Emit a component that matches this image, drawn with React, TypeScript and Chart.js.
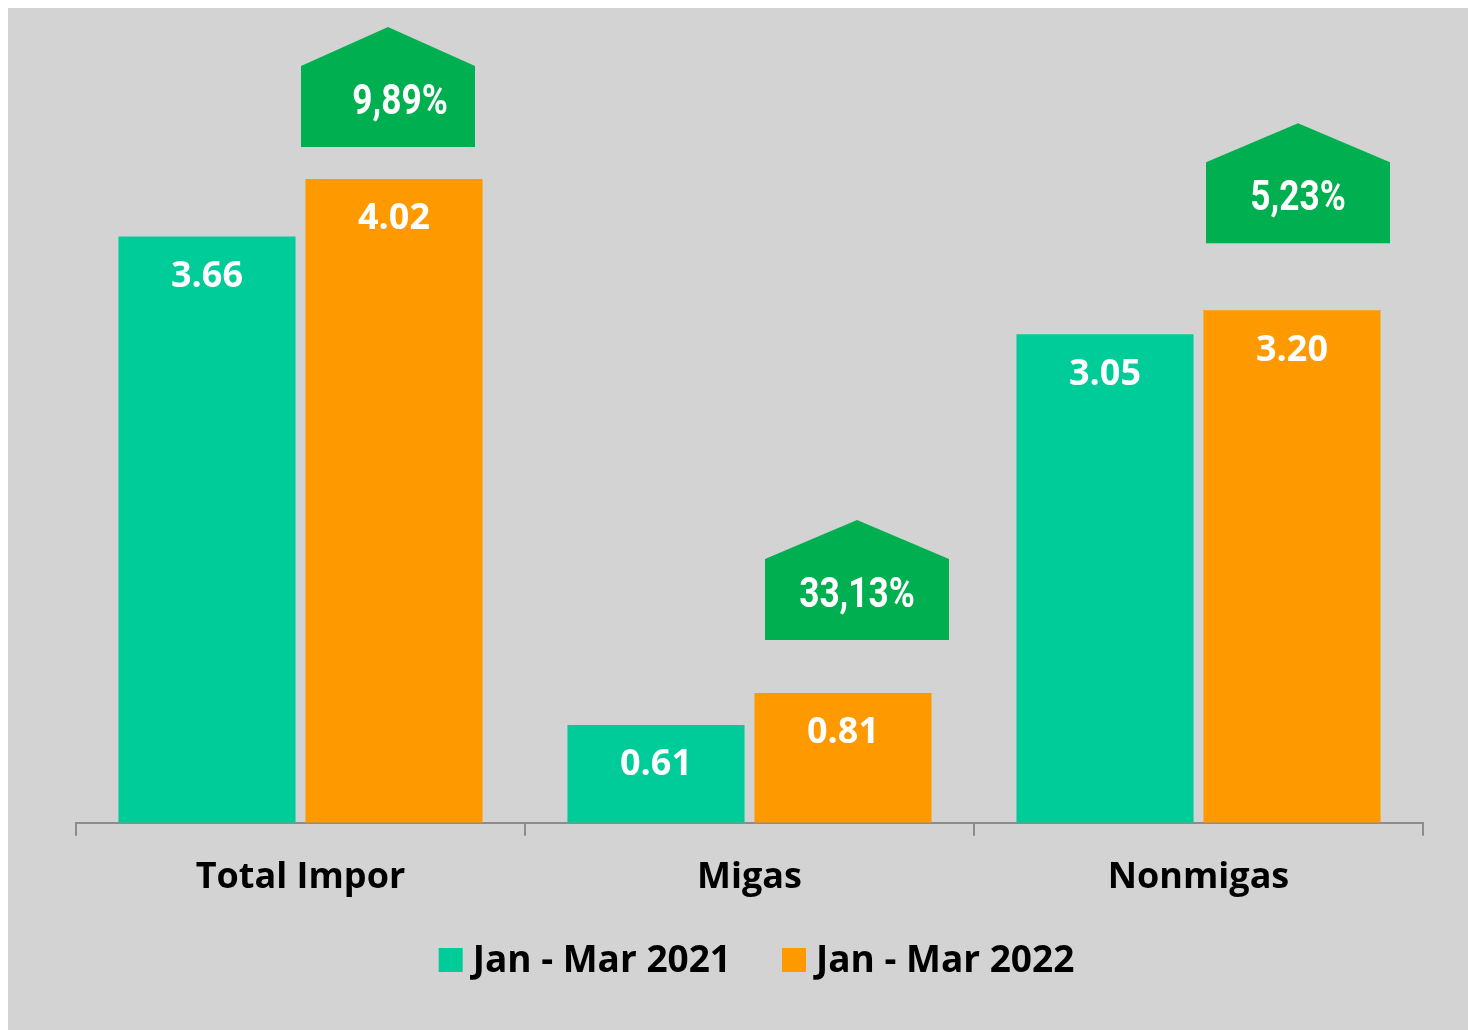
import React, { useEffect, useRef } from "react";
import { Chart, registerables } from "chart.js";

Chart.register(...registerables);

const categories = ["Total Impor", "Migas", "Nonmigas"];
const seriesNames = ["Jan - Mar 2021", "Jan - Mar 2022"];
const values2021 = [3.66, 0.61, 3.05];
const values2022 = [4.02, 0.81, 3.2];
const growthLabels = ["9,89%", "33,13%", "5,23%"];

const TEAL = "#00cc99";
const ORANGE = "#ff9900";
const GREEN = "#00b050";
const BG = "#d3d3d3";
const AXIS = "#8c8c8c";
const FONT = "'Open Sans', Lato, sans-serif";
const NARROW = "Roboto, 'Liberation Sans', sans-serif";

const calloutLayout = {
  shift: [-6, 14, 6],
  width: [174, 184, 184],
  lift: [32, 53, 67],
  rectHeight: 81,
  roofHeight: 39,
  textShift: [12, 0, 0],
};

const labelsPlugin = {
  id: "barLabels",
  afterDatasetsDraw(chart: any) {
    const ctx = chart.ctx;
    ctx.save();
    ctx.fillStyle = "#ffffff";
    ctx.font = `bold 36px ${FONT}`;
    ctx.textAlign = "center";
    ctx.textBaseline = "middle";
    chart.data.datasets.forEach((ds: any, di: number) => {
      const meta = chart.getDatasetMeta(di);
      meta.data.forEach((el: any, i: number) => {
        ctx.fillText(Number(ds.data[i]).toFixed(2), el.x, el.y + 40);
      });
    });
    // callouts
    const meta = chart.getDatasetMeta(1);
    meta.data.forEach((el: any, i: number) => {
      const cx = el.x + calloutLayout.shift[i];
      const w = calloutLayout.width[i];
      const bottom = el.y - calloutLayout.lift[i];
      const top = bottom - calloutLayout.rectHeight;
      const apex = top - calloutLayout.roofHeight;
      ctx.beginPath();
      ctx.moveTo(cx - w / 2, bottom);
      ctx.lineTo(cx - w / 2, top);
      ctx.lineTo(cx, apex);
      ctx.lineTo(cx + w / 2, top);
      ctx.lineTo(cx + w / 2, bottom);
      ctx.closePath();
      ctx.fillStyle = GREEN;
      ctx.fill();
      ctx.save();
      ctx.fillStyle = "#ffffff";
      ctx.font = `bold 42px ${NARROW}`;
      const tx = cx + calloutLayout.textShift[i];
      const ty = (top + bottom) / 2 - 3;
      ctx.translate(tx, ty);
      ctx.scale(0.84, 1);
      ctx.fillText(growthLabels[i], 0, 0);
      ctx.restore();
    });
    ctx.restore();
  },
  afterDraw(chart: any) {
    const ctx = chart.ctx;
    ctx.save();
    ctx.font = `bold 37px ${FONT}`;
    ctx.textBaseline = "middle";
    ctx.textAlign = "left";
    const box = 24;
    const gap = 10;
    const itemGap = 51;
    const colors = [TEAL, ORANGE];
    const widths = seriesNames.map((n) => ctx.measureText(n).width);
    const total = widths.reduce((a, b) => a + b, 0) + 2 * (box + gap) + itemGap;
    const cxMid = (chart.chartArea.left + chart.chartArea.right) / 2 + 7;
    let x = cxMid - total / 2;
    const y = 952;
    seriesNames.forEach((n, i) => {
      ctx.fillStyle = colors[i];
      ctx.fillRect(x, y - box / 2, box, box);
      x += box + gap;
      ctx.fillStyle = "#000000";
      ctx.fillText(n, x, y + 1);
      x += widths[i] + itemGap;
    });
    ctx.restore();
  },
};

export default function App() {
  const ref = useRef<HTMLCanvasElement | null>(null);
  useEffect(() => {
    if (!ref.current) return;
    const chart = new Chart(ref.current, {
      type: "bar",
      data: {
        labels: categories,
        datasets: [
          {
            label: seriesNames[0],
            data: values2021,
            backgroundColor: TEAL,
            categoryPercentage: 0.833,
            barPercentage: 0.947,
          },
          {
            label: seriesNames[1],
            data: values2022,
            backgroundColor: ORANGE,
            categoryPercentage: 0.833,
            barPercentage: 0.947,
          },
        ],
      },
      options: {
        responsive: false,
        animation: false,
        layout: { padding: { left: 68, right: 53, top: 14, bottom: 111 } },
        plugins: {
          legend: { display: false },
          tooltip: { enabled: false },
        },
        scales: {
          y: { display: false, min: 0, max: 5 },
          x: {
            grid: {
              display: true,
              drawOnChartArea: false,
              offset: true,
              tickLength: 13,
              color: AXIS,
              lineWidth: 2,
            },
            border: { display: true, color: AXIS, width: 2 },
            ticks: {
              color: "#000000",
              padding: 20,
              font: { family: FONT, size: 36, weight: "bold" },
            },
          },
        },
      },
      plugins: [labelsPlugin],
    });
    return () => chart.destroy();
  }, []);
  return (
    <div style={{ width: 1468, height: 1022, background: BG }}>
      <canvas ref={ref} width={1468} height={1022} style={{ display: "block" }} />
    </div>
  );
}
